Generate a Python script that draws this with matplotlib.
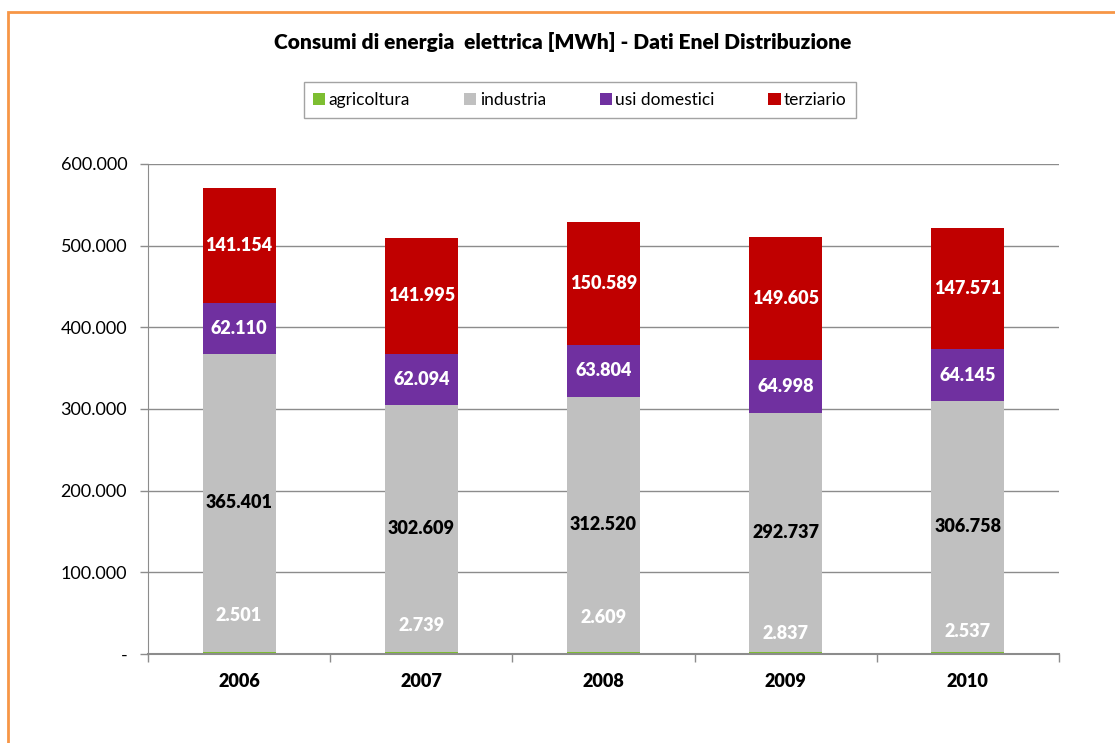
import numpy as np
import matplotlib.pyplot as plt
from matplotlib.patches import Rectangle
from matplotlib.ticker import FuncFormatter

plt.rcParams['font.family'] = ['Lato', 'DejaVu Sans']

years = ['2006', '2007', '2008', '2009', '2010']
series = ['agricoltura', 'industria', 'usi domestici', 'terziario']
agricoltura = [2501, 2739, 2609, 2837, 2537]
industria = [365401, 302609, 312520, 292737, 306758]
domestici = [62110, 62094, 63804, 64998, 64145]
terziario = [141154, 141995, 150589, 149605, 147571]

colors = ['#7DBE31', '#C0C0C0', '#7030A0', '#C00000']
label_colors = ['white', 'black', 'white', 'white']
# hand-placed heights for the small agricoltura labels
agri_label_y = [47000, 35000, 45000, 25500, 28000]


def fmt(v):
    return f'{v:,.0f}'.replace(',', '.')


fig = plt.figure(figsize=(11.15, 7.43), dpi=100)
ax = fig.add_axes([0.1327, 0.1198, 0.8171, 0.6595])

x = np.arange(len(years))
w = 0.40
bottom = np.zeros(len(years))
for vals, col, lc, name in zip([agricoltura, industria, domestici, terziario],
                               colors, label_colors, series):
    vals = np.array(vals, dtype=float)
    ax.bar(x, vals, w, bottom=bottom, color=col, label=name, zorder=3)
    for i, v in enumerate(vals):
        if name == 'agricoltura':
            y = agri_label_y[i]
        else:
            y = bottom[i] + v / 2
        ax.text(x[i], y, fmt(v), ha='center', va='center', color=lc,
                fontsize=13, fontweight='heavy', zorder=4)
    bottom += vals

ax.set_xlim(-0.5, len(years) - 0.5)
ax.set_ylim(0, 600000)
ax.set_yticks(np.arange(0, 600001, 100000))
ax.yaxis.set_major_formatter(FuncFormatter(lambda v, p: '-' if v == 0 else fmt(v)))
ax.grid(axis='y', color='#8c8c8c', linewidth=1, zorder=0)

ax.set_xticks(x)
ax.set_xticklabels(years, fontweight='heavy', fontsize=13)
ax.set_xticks(np.arange(-0.5, len(years)), minor=True)
ax.tick_params(axis='x', which='major', length=0, pad=14)
ax.tick_params(axis='x', which='minor', length=6, color='#8c8c8c', width=1)
ax.tick_params(axis='y', length=6, color='#8c8c8c', width=1, labelsize=13, pad=9)

for s in ['top', 'right']:
    ax.spines[s].set_visible(False)
ax.spines['left'].set_color('#8c8c8c')
ax.spines['bottom'].set_color('#8c8c8c')
ax.spines['bottom'].set_linewidth(1.5)
ax.spines['bottom'].set_zorder(5)

fig.text(0.505, 0.943, 'Consumi di energia  elettrica [MWh] - Dati Enel Distribuzione',
         ha='center', va='center', fontsize=15, fontweight='heavy')

leg = ax.legend(loc='center', bbox_to_anchor=(0.5202, 0.8654), bbox_transform=fig.transFigure,
                ncol=4, frameon=True, fancybox=False, fontsize=12.5,
                handlelength=0.7, handleheight=0.7, handletextpad=0.2,
                columnspacing=3.1, borderpad=0.55, borderaxespad=0)
leg.get_frame().set_edgecolor('#8c8c8c')
leg.get_frame().set_linewidth(1)

# outer frame of the chart area
fig.patches.append(Rectangle((8 / 1115, -0.1), 1.2, (743 - 12) / 743 + 0.1,
                             transform=fig.transFigure, fill=False,
                             edgecolor='#F79646', linewidth=2))

fig.savefig('out.png', dpi=100)
